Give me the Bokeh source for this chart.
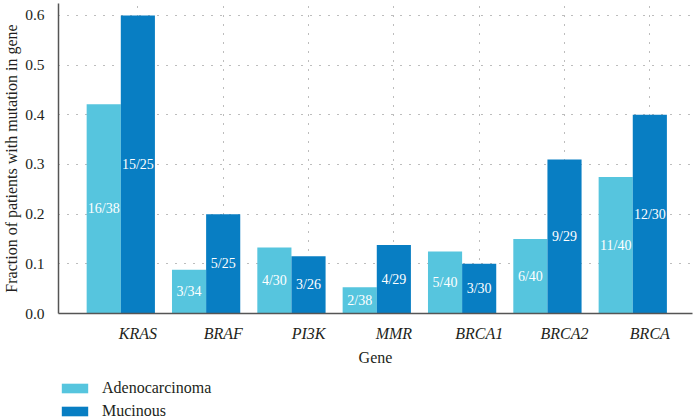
from bokeh.plotting import figure
from bokeh.layouts import column
from bokeh.models import ColumnDataSource, FixedTicker, Legend, LegendItem, Range1d
from bokeh.transform import dodge
from bokeh.core.properties import value
from bokeh.embed import file_html
from bokeh.resources import INLINE

genes = ["KRAS", "BRAF", "PI3K", "MMR", "BRCA1", "BRCA2", "BRCA"]
adeno = [0.421, 0.088, 0.133, 0.053, 0.125, 0.150, 0.275]
mucin = [0.600, 0.200, 0.115, 0.138, 0.100, 0.310, 0.400]
adeno_lbl = ["16/38", "3/34", "4/30", "2/38", "5/40", "6/40", "11/40"]
mucin_lbl = ["15/25", "5/25", "3/26", "4/29", "3/30", "9/29", "12/30"]
series = ["Adenocarcinoma", "Mucinous"]
y_ticks = [0.0, 0.1, 0.2, 0.3, 0.4, 0.5, 0.6]

LIGHT = "#56c5de"
DARK = "#087ec3"
SERIF = "Liberation Serif"
TXT = "#231f20"

pos = list(range(1, len(genes) + 1))
src = ColumnDataSource(dict(
    x=pos, adeno=adeno, mucin=mucin,
    adeno_mid=[v / 2 for v in adeno], mucin_mid=[v / 2 for v in mucin],
    adeno_lbl=adeno_lbl, mucin_lbl=mucin_lbl,
))

p = figure(width=694, height=375, output_backend="svg", toolbar_location=None,
           x_range=Range1d(0.07, 7.5), y_range=Range1d(0, 0.624),
           min_border_left=53, min_border_right=2, min_border_top=3,
           min_border_bottom=62)
p.outline_line_color = None

# grid
p.ygrid.ticker = FixedTicker(ticks=y_ticks)
p.xgrid.ticker = FixedTicker(ticks=pos)
for g in (p.xgrid, p.ygrid):
    g.grid_line_color = "#7a7a7a"
    g.grid_line_dash = "1 8"
    g.grid_line_width = 1

bw = 0.4
p.vbar(x=dodge("x", -0.4, range=p.x_range), top="adeno", width=bw, source=src,
       fill_color=LIGHT, line_color=None)
p.vbar(x=dodge("x", 0.0, range=p.x_range), top="mucin", width=bw, source=src,
       fill_color=DARK, line_color=None)

for col, lbl, off in (("adeno_mid", "adeno_lbl", -0.4), ("mucin_mid", "mucin_lbl", 0.0)):
    p.text(x=dodge("x", off, range=p.x_range), y=col, text=lbl, source=src,
           text_color="white", text_font=value(SERIF), text_font_size="14px",
           text_align="center", text_baseline="middle")

# axes
p.xaxis.ticker = FixedTicker(ticks=pos)
p.xaxis.major_label_overrides = {x: g for x, g in zip(pos, genes)}
p.yaxis.ticker = FixedTicker(ticks=y_ticks)
p.yaxis.major_label_overrides = {t: f"{t:.1f}" for t in y_ticks}
for ax in (p.xaxis[0], p.yaxis[0]):
    ax.axis_line_color = "#555555"
    ax.axis_line_width = 1.5
    ax.major_tick_line_color = None
    ax.minor_tick_line_color = None
    ax.major_label_text_font = SERIF
    ax.major_label_text_font_size = "16px"
    ax.major_label_text_color = TXT
    ax.axis_label_text_font = SERIF
    ax.axis_label_text_font_style = "normal"
    ax.axis_label_text_color = TXT
p.xaxis.major_label_text_font_style = "italic"
p.xaxis.axis_label = "Gene"
p.xaxis.axis_label_text_font_size = "16px"
p.xaxis.major_label_standoff = 5
p.xaxis.axis_label_standoff = 4
p.yaxis.major_label_text_font_size = "15.5px"
p.yaxis.axis_label = "Fraction of patients with mutation in gene"
p.yaxis.axis_label_text_font_size = "16px"
p.yaxis.major_label_standoff = 8
p.yaxis.axis_label_standoff = 2

# legend strip below the chart (its renderers are hidden, only the legend shows)
pl = figure(width=694, height=42, output_backend="svg", toolbar_location=None,
            x_range=Range1d(0.07, 7.5), y_range=Range1d(-2, -1),
            x_axis_location=None, y_axis_location=None,
            min_border_left=45, min_border_right=2, min_border_top=3, min_border_bottom=0)
pl.outline_line_color = None
pl.grid.visible = False
lr1 = pl.vbar(x="x", top="adeno", width=bw, source=src, fill_color=LIGHT,
              line_color=None, visible=False)
lr2 = pl.vbar(x="x", top="mucin", width=bw, source=src, fill_color=DARK,
              line_color=None, visible=False)
legend = Legend(items=[LegendItem(label=series[0], renderers=[lr1]),
                       LegendItem(label=series[1], renderers=[lr2])],
                location="top_left", orientation="vertical",
                glyph_width=33, glyph_height=12, label_standoff=11,
                label_height=20, spacing=3, padding=0, margin=0,
                inactive_fill_alpha=0,
                label_text_font=SERIF, label_text_font_size="16px",
                label_text_color=TXT, border_line_color=None,
                background_fill_alpha=0)
pl.add_layout(legend)

layout = column(p, pl, spacing=0)
open("out.html", "w").write(file_html(layout, INLINE))
